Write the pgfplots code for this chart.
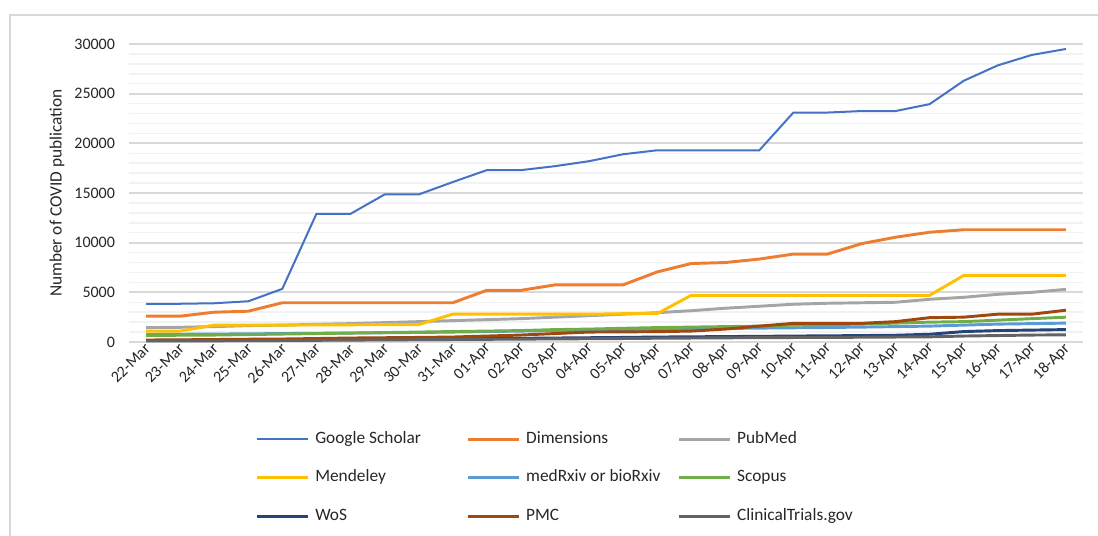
\documentclass[border=0pt]{standalone}
\usepackage{fontspec}
\setmainfont{Carlito}
\usepackage{pgfplots}
\usepackage{pgfplotstable}
\pgfplotsset{compat=1.18}
\definecolor{cGS}{HTML}{4472C4}
\definecolor{cDim}{HTML}{ED7D31}
\definecolor{cPub}{HTML}{A5A5A5}
\definecolor{cMen}{HTML}{FFC000}
\definecolor{cMed}{HTML}{5B9BD5}
\definecolor{cSco}{HTML}{70AD47}
\definecolor{cWoS}{HTML}{264478}
\definecolor{cPMC}{HTML}{9E480E}
\definecolor{cCT}{HTML}{636363}
\definecolor{gridmaj}{HTML}{D9D9D9}
\definecolor{gridmin}{HTML}{F2F2F2}
\pgfplotstableread{
i GS Dim Pub Men Med Sco WoS PMC CT
0 3850 2600 1450 1100 750 650 150 200 100
1 3850 2600 1480 1100 780 680 160 220 110
2 3900 3000 1550 1700 800 700 180 250 120
3 4100 3100 1650 1700 820 750 200 280 130
4 5350 3950 1700 1700 850 800 220 300 150
5 12900 3950 1780 1720 880 850 240 350 170
6 12900 3950 1850 1730 900 900 260 400 190
7 14850 3950 1950 1750 930 950 280 430 210
8 14850 3950 2050 1750 960 1000 300 460 230
9 16100 3950 2150 2800 1000 1050 320 500 250
10 17300 5200 2250 2800 1050 1100 340 600 270
11 17300 5200 2350 2800 1100 1150 370 700 290
12 17700 5750 2500 2800 1150 1250 400 850 310
13 18200 5750 2650 2800 1200 1300 430 1000 330
14 18900 5750 2800 2850 1250 1380 460 1020 350
15 19300 7050 2950 2850 1280 1450 500 1040 380
16 19300 7900 3150 4700 1320 1500 520 1100 400
17 19300 8000 3400 4700 1360 1550 550 1300 420
18 19300 8350 3600 4700 1400 1600 570 1600 440
19 23100 8850 3800 4700 1430 1700 600 1880 450
20 23100 8850 3900 4700 1460 1750 620 1880 460
21 23250 9900 3950 4700 1500 1800 650 1880 480
22 23250 10550 4000 4700 1550 1900 680 2050 500
23 23950 11050 4300 4700 1600 2000 780 2450 520
24 26300 11300 4500 6700 1700 2050 1050 2500 600
25 27850 11300 4800 6700 1800 2200 1150 2800 650
26 28900 11300 5000 6700 1850 2350 1200 2800 700
27 29500 11300 5300 6700 1900 2500 1250 3200 720
}\data
\begin{document}
\begin{tikzpicture}
\begin{axis}[
  at={(0,0)}, anchor=south west,
  scale only axis, width=715.5pt, height=223.5pt,
  xmin=-0.5, xmax=27.5, ymin=0, ymax=30000,
  axis line style={draw=none},
  tick style={draw=none},
  ytick={0,5000,...,30000},
  minor y tick num=4,
  ymajorgrids, yminorgrids,
  major grid style={draw=gridmaj, line width=1.5pt},
  minor grid style={draw=gridmin, line width=1.1pt},
  xtick={0,...,27},
  xticklabels={22-Mar,23-Mar,24-Mar,25-Mar,26-Mar,27-Mar,28-Mar,29-Mar,30-Mar,31-Mar,01-Apr,02-Apr,03-Apr,04-Apr,05-Apr,06-Apr,07-Apr,08-Apr,09-Apr,10-Apr,11-Apr,12-Apr,13-Apr,14-Apr,15-Apr,16-Apr,17-Apr,18-Apr},
  scaled y ticks=false,
  /pgf/number format/assume math mode=true,
  /pgf/number format/1000 sep={},
  tick label style={font=\fontsize{12}{14}\selectfont, text=black!85},
  yticklabel style={xshift=-7pt},
  xticklabel style={rotate=45, anchor=east, yshift=-3pt, xshift=2pt},
  ylabel={Number of COVID publication},
  ylabel style={font=\fontsize{13}{15}\selectfont, at={(axis description cs:-0.0755,0.5)}, anchor=center, text=black!85},
  legend columns=3,
  legend image code/.code={\draw[#1] (0pt,0pt) -- (38pt,0pt);},
  legend style={draw=none, fill=none, inner sep=0pt,
    at={(axis description cs:0.1325,-0.298)}, anchor=north west,
    column sep=0pt, row sep=16.9pt,
    font=\fontsize{13}{15}\selectfont, text=black!85,
    nodes={inner xsep=4.5pt, inner ysep=0pt, text height=9pt, text depth=3pt}},
]
\addplot[cGS, line width=1.5pt] table[x=i,y=GS]{\data};
\addlegendentry{\makebox[109pt][l]{Google Scholar}}
\addplot[cDim, line width=2.2pt] table[x=i,y=Dim]{\data};
\addlegendentry{\makebox[109pt][l]{Dimensions}}
\addplot[cPub, line width=2.2pt] table[x=i,y=Pub]{\data};
\addlegendentry{\makebox[109pt][l]{PubMed}}
\addplot[cMen, line width=2.2pt] table[x=i,y=Men]{\data};
\addlegendentry{\makebox[109pt][l]{Mendeley}}
\addplot[cMed, line width=2.2pt] table[x=i,y=Med]{\data};
\addlegendentry{\makebox[109pt][l]{medRxiv or bioRxiv}}
\addplot[cSco, line width=2.2pt] table[x=i,y=Sco]{\data};
\addlegendentry{\makebox[109pt][l]{Scopus}}
\addplot[cWoS, line width=2.2pt] table[x=i,y=WoS]{\data};
\addlegendentry{\makebox[109pt][l]{WoS}}
\addplot[cPMC, line width=2.2pt] table[x=i,y=PMC]{\data};
\addlegendentry{\makebox[109pt][l]{PMC}}
\addplot[cCT, line width=2.2pt] table[x=i,y=CT]{\data};
\addlegendentry{\makebox[109pt][l]{ClinicalTrials.gov}}
\end{axis}
\pgfresetboundingbox
\path[use as bounding box] (-96.75pt,-144.75pt) rectangle (726.75pt,256.5pt);
\draw[gridmaj, line width=1.1pt] (-89.25pt,-160pt) -- (-89.25pt,245.25pt) -- (740pt,245.25pt);
\end{tikzpicture}
\end{document}
